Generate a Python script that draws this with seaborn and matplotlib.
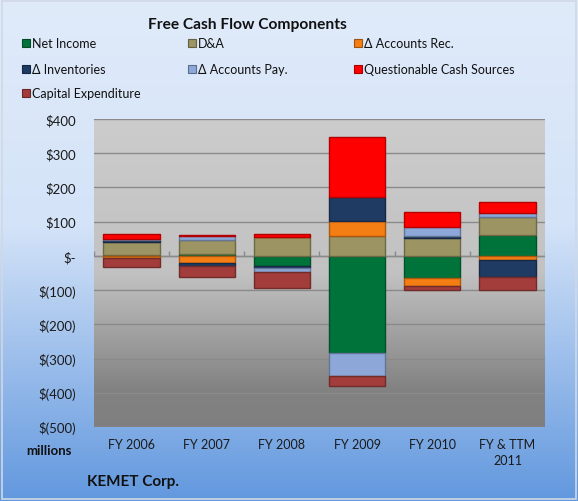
import numpy as np
import matplotlib
matplotlib.use("Agg")
import matplotlib.pyplot as plt
from matplotlib.patches import Rectangle
from matplotlib.colors import to_rgb
import seaborn as sns

# values in $ millions
years = ["FY 2006", "FY 2007", "FY 2008", "FY 2009", "FY 2010", "FY & TTM\n2011"]
series_names = ["Net Income", "D&A", "Δ Accounts Rec.", "Δ Inventories",
                "Δ Accounts Pay.", "Questionable Cash Sources", "Capital Expenditure"]
net_income = [2, 5, -30, -283, -66, 62]
dep_amort = [39, 41, 54, 57, 52, 53]
accounts_rec = [-6, -21, 0, 44, -21, -13]
inventories = [4, -10, -4, 70, 6, -49]
accounts_pay = [5, 13, -13, -68, 25, 10]
questionable = [13, 3, 10, 177, 45, 32]
capex = [-26, -31, -46, -29, -13, -37]
colors = ["#00733A", "#9C9462", "#F57E14", "#1F3B63", "#8DA8D8", "#FF0000", "#A23D3B"]

yticks = [400, 300, 200, 100, 0, -100, -200, -300, -400, -500]
ytick_labels = ["$400", "$300", "$200", "$100", "$-", "$(100)", "$(200)",
                "$(300)", "$(400)", "$(500)"]

sns.set_style("white")
plt.rcParams["font.family"] = ["Lato", "DejaVu Sans"]

W, H = 578, 502
fig = plt.figure(figsize=(W / 100, H / 100), dpi=100)

# chart area background (light blue gradient)
bg = fig.add_axes([0, 0, 1, 1], zorder=-10)
t = np.linspace(0, 1, 256)
top_c = np.array([224, 235, 250]) / 255
mid_c = np.array([212, 227, 248]) / 255
bot_c = np.array([98, 152, 222]) / 255
grad = np.where(t[:, None] < 0.45,
                top_c + (mid_c - top_c) * (t[:, None] / 0.45),
                mid_c + (bot_c - mid_c) * ((t[:, None] - 0.45) / 0.55))
bg.imshow(grad[:, None, :], aspect="auto", extent=[0, 1, 0, 1])
bg.axis("off")
fig.add_artist(Rectangle((0.003, 0.003), 0.994, 0.994, transform=fig.transFigure,
                         fill=False, edgecolor="#D0D8E4", lw=1.2))

ax = fig.add_axes([94 / W, 1 - 428 / H, (545 - 94) / W, (428 - 120) / H])

# plot area grey gradient
g = np.interp(t, [0, 0.5, 0.88, 1.0], [0.80, 0.76, 0.51, 0.50])
ax.imshow(np.repeat(g[:, None, None], 3, axis=2), aspect="auto",
          extent=[-0.5, len(years) - 0.5, -500, 400], zorder=0)

all_series = [net_income, dep_amort, accounts_rec, inventories, accounts_pay, questionable, capex]
pos_base = np.zeros(len(years))
neg_base = np.zeros(len(years))
for name, vals, col in zip(series_names, all_series, colors):
    vals = np.array(vals, dtype=float)
    bottom = np.where(vals >= 0, pos_base, neg_base)
    edge = tuple(np.array(to_rgb(col)) * 0.7)
    sns.barplot(x=years, y=vals, bottom=bottom, color=col, width=0.75,
                errorbar=None, edgecolor=edge, linewidth=1.0, saturation=1,
                ax=ax, zorder=3)
    pos_base += np.where(vals >= 0, vals, 0)
    neg_base += np.where(vals < 0, vals, 0)

ax.set_xlim(-0.5, len(years) - 0.5)
ax.set_ylim(-500, 400)
ax.set_yticks(yticks)
ax.set_yticklabels(ytick_labels)
ax.yaxis.grid(True, color="#8A8A8A", lw=1)
ax.set_axisbelow(True)
ax.axhline(0, color="#8A8A8A", lw=1, zorder=2)
ax.vlines(np.arange(len(years) + 1) - 0.5, 0, 14, color="#8A8A8A", lw=1, zorder=2)
for s in ax.spines.values():
    s.set_visible(False)
ax.set_xlabel("")
ax.set_ylabel("")
ax.tick_params(axis="y", direction="in", length=4, color="#8A8A8A", pad=13,
               labelsize=9.5, labelcolor="#1a1a1a")
ax.tick_params(axis="x", length=0, pad=8, labelsize=9, labelcolor="#1a1a1a")
for lab in ax.get_xticklabels():
    lab.set_linespacing(1.4)

# title, legend and notes
fig.text(247 / W, 1 - 25 / H, "Free Cash Flow Components", ha="center", va="center",
         fontsize=11.2, fontweight="bold", color="#111111")
legend_x = [22, 188, 354]
legend_y = [44, 70, 94]
for i, (name, col) in enumerate(zip(series_names, colors)):
    cx = legend_x[i % 3]
    cy = legend_y[i // 3]
    edge = tuple(np.array(to_rgb(col)) * 0.65)
    fig.add_artist(Rectangle((cx / W, 1 - (cy + 4) / H), 8 / W, 8 / H,
                             transform=fig.transFigure, facecolor=col,
                             edgecolor=edge, lw=0.8))
    fig.text((cx + 10) / W, 1 - cy / H, name, ha="left", va="center",
             fontsize=9, color="#111111")

fig.text(72 / W, 1 - 451 / H, "millions", ha="right", va="center",
         fontsize=9.5, fontweight="bold", color="#111111")
fig.text(87 / W, 1 - 482 / H, "KEMET Corp.", ha="left", va="center",
         fontsize=11, fontweight="bold", color="#111111")

fig.savefig("out.png", dpi=100)
